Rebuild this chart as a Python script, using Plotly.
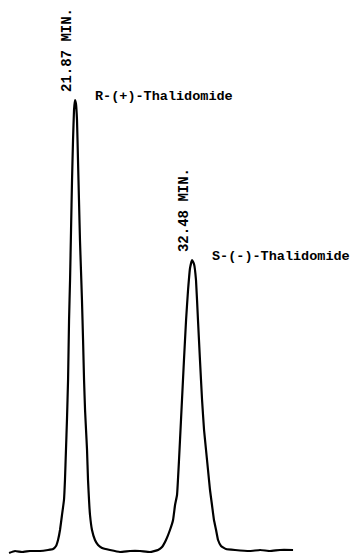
import plotly.graph_objects as go

# Retention time (min) and detector response (arbitrary units)
time_min = [15.89, 16.43, 17.06, 17.79, 18.70, 19.42, 19.88, 20.15, 20.33, 20.51,
            20.69, 20.87, 20.96, 21.05, 21.14, 21.24, 21.33, 21.42, 21.51, 21.60,
            21.69, 21.78, 21.87, 21.96, 22.05, 22.14, 22.23, 22.32, 22.41, 22.50,
            22.60, 22.69, 22.78, 22.87, 22.96, 23.05, 23.14, 23.23, 23.41, 23.68,
            23.96, 24.32, 25.04, 25.95, 26.86, 27.76, 28.67, 29.40, 29.76, 30.12,
            30.48, 30.76, 30.94, 31.12, 31.30, 31.48, 31.66, 31.75, 31.94, 32.12,
            32.30, 32.48, 32.66, 32.84, 33.02, 33.20, 33.39, 33.57, 33.75, 33.93,
            34.11, 34.29, 34.47, 34.66, 34.84, 35.11, 35.56, 36.38, 37.74, 38.65,
            39.55, 40.46, 41.64]
signal = [0, 2, 1, 2, 2, 3, 4, 7, 13, 23,
          38, 53, 73, 103, 133, 173, 233, 273, 323, 373,
          413, 443, 453, 449, 433, 393, 353, 313, 283, 253,
          213, 173, 143, 123, 103, 73, 53, 38, 23, 13,
          8, 5, 3, 1, 2, 2, 1, 3, 6, 13,
          23, 33, 48, 58, 93, 133, 173, 193, 233, 263,
          285, 293, 289, 273, 233, 193, 153, 123, 103, 83,
          63, 48, 33, 23, 13, 7, 4, 3, 2, 3,
          2, 3, 3]

peak_times = [21.87, 32.48]
peak_heights = [453, 293]
rt_labels = ["21.87 MIN.", "32.48 MIN."]
compound_labels = ["R-(+)-Thalidomide", "S-(-)-Thalidomide"]

fig = go.Figure()
fig.add_trace(go.Scatter(x=time_min, y=signal, mode="lines",
                         line=dict(color="black", width=2.2, shape="spline", smoothing=0.3),
                         hoverinfo="skip", showlegend=False))

rt_font = dict(family="Liberation Mono, DejaVu Sans Mono, monospace", size=14, color="black")
name_font = dict(family="Liberation Mono, DejaVu Sans Mono, monospace", size=13.5, color="black")
for t, h, rt, name in zip(peak_times, peak_heights, rt_labels, compound_labels):
    fig.add_annotation(x=t, y=h, text="<b>" + rt + "</b>", textangle=-90, showarrow=False,
                       xanchor="center", yanchor="bottom", xshift=-8, yshift=6, font=rt_font)
    fig.add_annotation(x=t, y=h, text="<b>" + name + "</b>", showarrow=False,
                       xanchor="left", yanchor="middle", xshift=18, yshift=4, font=name_font)

# page body has an 8px default margin, so the figure is 8px smaller and ranges start 8px in
fig.update_layout(width=351, height=548, margin=dict(l=0, r=0, t=0, b=0),
                  paper_bgcolor="white", plot_bgcolor="white")
fig.update_xaxes(range=[15.794, 47.62], visible=False)
fig.update_yaxes(range=[-3, 545], visible=False)
fig.write_html("out.html")
